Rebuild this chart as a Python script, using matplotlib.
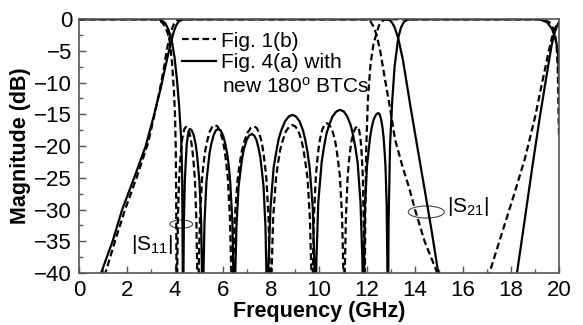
import numpy as np
import matplotlib
matplotlib.use("Agg")
import matplotlib.pyplot as plt
from matplotlib.patches import Ellipse
from matplotlib.ticker import MultipleLocator

plt.rcParams['font.family'] = ['Liberation Sans', 'DejaVu Sans']
plt.rcParams['mathtext.fontset'] = 'custom'
plt.rcParams['mathtext.rm'] = 'Liberation Sans'
plt.rcParams['mathtext.it'] = 'Liberation Sans:italic'

# ---- datos (GHz, dB) ----
# Fig. 4(a) con nuevos BTC de 180 grados (linea continua)
s11_new_f = [0, 3.3, 3.45, 3.6, 3.72, 3.86, 3.98, 4.08, 4.17, 4.26, 4.3, 4.34,
             4.35, 4.37, 4.41, 4.44, 4.47, 4.49, 4.54, 4.58, 4.62, 4.70, 4.78, 4.86, 4.91, 4.96, 5.02, 5.09, 5.13, 5.15,
             5.18, 5.23, 5.31, 5.38, 5.44, 5.51, 5.61, 5.70, 5.8, 5.90, 6.0, 6.10, 6.17, 6.24, 6.30, 6.39, 6.44, 6.47,
             6.50, 6.56, 6.65, 6.73, 6.80, 6.87, 6.98, 7.09, 7.2, 7.30, 7.40, 7.49, 7.56, 7.62, 7.69, 7.77, 7.82, 7.85,
             7.89, 7.98, 8.11, 8.22, 8.32, 8.43, 8.59, 8.74, 8.9, 9.04, 9.19, 9.33, 9.42, 9.52, 9.61, 9.74, 9.81, 9.85,
             9.89, 9.97, 10.11, 10.21, 10.31, 10.42, 10.57, 10.73, 10.88, 11.03, 11.17, 11.32, 11.41, 11.51, 11.61, 11.73, 11.81, 11.85,
             11.87, 11.92, 12.0, 12.07, 12.13, 12.19, 12.28, 12.38, 12.47, 12.53, 12.59, 12.65, 12.69, 12.73, 12.77, 12.82, 12.85, 12.87,
             12.9, 12.96, 13.05, 13.15, 13.3, 13.42, 13.55, 13.7, 14.0,
             19.2, 19.5, 19.7, 19.85, 19.95, 20]
s11_new_db = [-0.05, -0.05, -0.2, -0.7, -1.6, -3.3, -6, -9.5, -13.5, -19, -25, -50,
              -41.3, -31.9, -25.6, -23.1, -21.1, -19.7, -18.3, -17.55, -17.3, -17.55, -18.3, -19.7, -21.1, -23.1, -25.6, -31.9, -41.3, -50,
              -41.3, -31.9, -25.6, -23.1, -21.1, -19.7, -18.3, -17.55, -17.3, -17.55, -18.3, -19.7, -21.1, -23.1, -25.6, -31.9, -41.3, -50,
              -42.1, -32.7, -26.4, -23.9, -21.9, -20.5, -19.1, -18.35, -18.1, -18.35, -19.1, -20.5, -21.9, -23.9, -26.4, -32.7, -42.1, -50,
              -39.1, -29.7, -23.4, -20.9, -18.9, -17.5, -16.1, -15.35, -15.1, -15.35, -16.1, -17.5, -18.9, -20.9, -23.4, -29.7, -39.1, -50,
              -38.3, -28.9, -22.6, -20.1, -18.1, -16.7, -15.3, -14.55, -14.3, -14.55, -15.3, -16.7, -18.1, -20.1, -22.6, -28.9, -38.3, -50,
              -38.8, -29.4, -23.1, -20.6, -18.6, -17.2, -15.8, -15.05, -14.8, -15.05, -15.8, -17.2, -18.6, -20.6, -23.1, -29.4, -38.8, -50,
              -32, -20, -13, -7.5, -3, -1.3, -0.4, -0.1, -0.05,
              -0.05, -0.5, -1.5, -3, -5, -9]

s21_new_f = [0, 0.92, 1.4, 1.8, 2.3, 2.78, 3.1, 3.4, 3.6, 3.75, 3.86, 3.95, 4.05, 4.15,
             4.3, 4.5, 12.8, 12.95, 13.05, 13.15, 13.3, 13.5, 13.8, 14.1, 14.4, 14.7,
             14.97, 15.3, 18.0, 18.25, 18.5, 18.9, 19.2, 19.5, 19.7, 19.83, 19.95, 20]
s21_new_db = [-60, -40, -35, -30, -25, -20, -15.5, -11, -7.5, -5, -3.3, -2, -1, -0.4,
              -0.1, -0.05, -0.05, -0.2, -0.6, -1.3, -3.0, -6.5, -13.5, -20.2, -26.8, -33.5,
              -40, -48, -48, -40, -33.5, -23, -15.5, -8.5, -4, -2, -0.8, -0.5]

# Fig. 1(b) (linea discontinua)
s11_old_f = [0, 3.2, 3.35, 3.5, 3.6, 3.7, 3.78, 3.88, 3.95, 4.0, 4.03, 4.05, 4.07,
             4.09, 4.12, 4.17, 4.21, 4.25, 4.28, 4.34, 4.40, 4.46, 4.53, 4.61, 4.68, 4.73, 4.78, 4.83, 4.89, 4.93, 4.95,
             4.98, 5.04, 5.13, 5.20, 5.27, 5.35, 5.45, 5.56, 5.67, 5.78, 5.88, 5.99, 6.06, 6.13, 6.20, 6.29, 6.35, 6.38,
             6.42, 6.49, 6.61, 6.70, 6.79, 6.89, 7.02, 7.16, 7.3, 7.40, 7.50, 7.61, 7.67, 7.74, 7.81, 7.90, 7.95, 7.98,
             8.02, 8.09, 8.21, 8.30, 8.39, 8.49, 8.62, 8.76, 8.9, 9.02, 9.15, 9.27, 9.35, 9.43, 9.52, 9.62, 9.69, 9.72,
             9.74, 9.79, 9.87, 9.93, 9.99, 10.05, 10.14, 10.23, 10.32, 10.43, 10.54, 10.65, 10.72, 10.79, 10.87, 10.96, 11.02, 11.05,
             11.07, 11.12, 11.19, 11.24, 11.30, 11.35, 11.44, 11.52, 11.6, 11.65, 11.69, 11.74, 11.77, 11.80, 11.83, 11.86, 11.89, 11.9,
             11.93, 11.97, 12.04, 12.15, 12.27, 12.4, 12.5, 12.6, 12.75, 13.0,
             19.3, 19.6, 19.8, 19.9, 19.95, 20]
s11_old_db = [-0.05, -0.05, -0.2, -0.7, -1.3, -2.3, -3.5, -7, -11, -15, -20, -28, -50,
              -41, -31.6, -25.3, -22.8, -20.8, -19.4, -18, -17.25, -17, -17.25, -18, -19.4, -20.8, -22.8, -25.3, -31.6, -41, -50,
              -40.7, -31.3, -25.0, -22.5, -20.5, -19.1, -17.7, -16.95, -16.7, -16.95, -17.7, -19.1, -20.5, -22.5, -25.0, -31.3, -40.7, -50,
              -40.9, -31.5, -25.2, -22.7, -20.7, -19.3, -17.9, -17.15, -16.9, -17.15, -17.9, -19.3, -20.7, -22.7, -25.2, -31.5, -40.9, -50,
              -40.7, -31.3, -25.0, -22.5, -20.5, -19.1, -17.7, -16.95, -16.7, -16.95, -17.7, -19.1, -20.5, -22.5, -25.0, -31.3, -40.7, -50,
              -40.4, -31.0, -24.7, -22.2, -20.2, -18.8, -17.4, -16.65, -16.4, -16.65, -17.4, -18.8, -20.2, -22.2, -24.7, -31.0, -40.4, -50,
              -40.9, -31.5, -25.2, -22.7, -20.7, -19.3, -17.9, -17.15, -16.9, -17.15, -17.9, -19.3, -20.7, -22.7, -25.2, -31.5, -40.9, -50,
              -30, -20, -12.5, -7, -4, -2.2, -1, -0.4, -0.1, -0.05,
              -0.05, -0.5, -1.8, -4, -8, -18.5]

s21_old_f = [0, 1.1, 1.5, 1.92, 2.4, 2.88, 3.15, 3.4, 3.55, 3.65, 3.75, 3.85, 3.95, 4.1,
             4.3, 12.0, 12.15, 12.27, 12.4, 12.55, 12.75, 12.96, 13.17, 13.5, 13.75, 14.0,
             14.4, 14.93, 15.3, 16.8, 17.1, 17.6, 18.1, 18.58, 19.0, 19.3, 19.55, 19.7,
             19.85, 20]
s21_old_db = [-60, -40, -35, -30, -25, -19.5, -15, -10.5, -7.5, -5, -3.2, -1.8, -0.8, -0.2,
              -0.05, -0.05, -0.4, -1.2, -2.5, -5, -9.5, -14, -19, -23.5, -26.5, -30,
              -35, -40, -45, -45, -40, -34, -28, -22, -15.5, -10, -5.5, -3,
              -1.3, -0.6]

fig = plt.figure(figsize=(5.83, 3.25), dpi=100)
ax = fig.add_axes([0.1355, 0.16, 0.8233, 0.7815])

lw = 1.6
l_old, = ax.plot(s11_old_f, s11_old_db, color="black", lw=lw, linestyle=(0, (3, 1.6)))
ax.plot(s21_old_f, s21_old_db, color="black", lw=lw, linestyle=(0, (3, 1.6)))
l_new, = ax.plot(s11_new_f, s11_new_db, color="black", lw=lw)
ax.plot(s21_new_f, s21_new_db, color="black", lw=lw)

ax.set_xlim(0, 20)
ax.set_ylim(-40, 0)
ax.xaxis.set_major_locator(MultipleLocator(2))
ax.xaxis.set_minor_locator(MultipleLocator(1))
ax.yaxis.set_major_locator(MultipleLocator(5))
ax.yaxis.set_minor_locator(MultipleLocator(2.5))
ax.tick_params(which="both", direction="in", top=False, right=False, labelsize=16,
               color="#555555", pad=5)
ax.tick_params(which="major", length=5, width=1)
ax.tick_params(which="minor", length=3, width=1)
for s in ax.spines.values():
    s.set_color("#555555")
    s.set_linewidth(1.2)

ax.set_xlabel("Frequency (GHz)", fontsize=15.5, fontweight="bold", labelpad=0)
ax.set_ylabel("Magnitude (dB)", fontsize=15.5, fontweight="bold", labelpad=2)

leg = ax.legend([l_old, l_new], ["Fig. 1(b)", "Fig. 4(a) with"], loc="upper left",
                bbox_to_anchor=(0.215, 0.95), frameon=False, fontsize=15,
                handlelength=1.6, handletextpad=0.25, labelspacing=0.12,
                borderpad=0.0, borderaxespad=0.0)
ax.text(5.96, -10.7, "new 180$^{\\rm o}$ BTCs", fontsize=15, ha="left", va="center")

ax.add_patch(Ellipse((4.26, -32.3), 0.95, 1.3, fill=False, ec="#444444", lw=0.8))
ax.add_patch(Ellipse((14.47, -30.4), 1.5, 1.9, fill=False, ec="#444444", lw=0.8))
ax.text(2.15, -35.5, r"$|\mathrm{S}_{11}|$", fontsize=15, ha="left", va="center")
ax.text(15.35, -29.6, r"$|\mathrm{S}_{21}|$", fontsize=15, ha="left", va="center")

fig.savefig("out.png", dpi=100)
